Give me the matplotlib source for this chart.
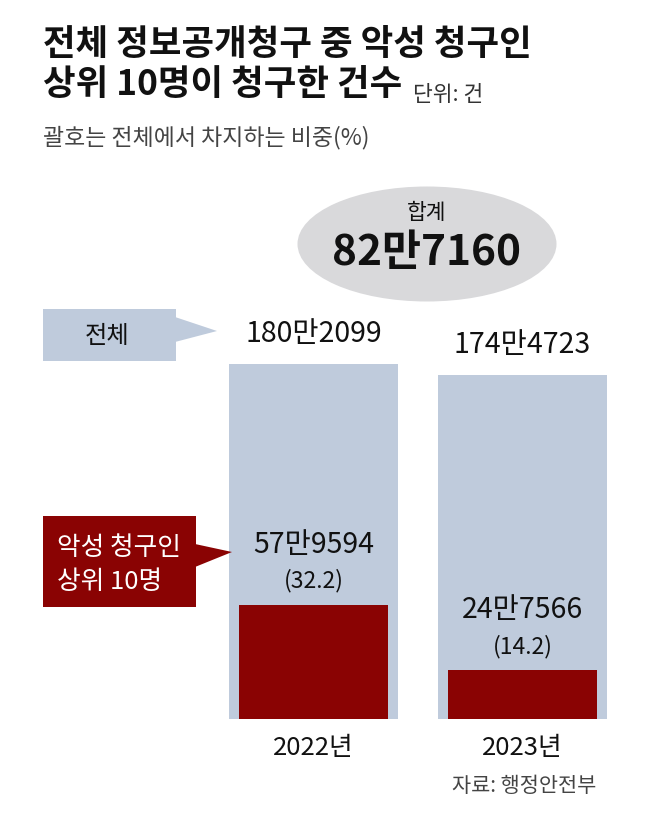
import matplotlib
matplotlib.use("Agg")
import matplotlib.pyplot as plt
from matplotlib.patches import Ellipse, Polygon, Rectangle

plt.rcParams['font.family'] = ['Noto Sans CJK KR', 'DejaVu Sans']

# requests filed, by year
years = ['2022년', '2023년']
total = [1802099, 1744723]
top10 = [579594, 247566]
total_labels = ['180만2099', '174만4723']
top10_labels = ['57만9594', '24만7566']
share_labels = ['(32.2)', '(14.2)']
sum_label = '82만7160'

LIGHT = '#bfcbdc'
DARK_RED = '#8a0303'
INK = '#111111'
W, H = 647, 820

fig = plt.figure(figsize=(W / 100, H / 100), dpi=100)

# bar panel, bottom at 720px from the top
ymax = 2000000
px_per_unit = 355 / total[0]
ax = fig.add_axes([209 / W, 100 / H, 418 / W, ymax * px_per_unit / H])
x = range(len(years))
ax.bar(x, total, width=0.81, color=LIGHT, zorder=1)
ax.bar(x, top10, width=0.713, color=DARK_RED, zorder=2)
ax.set_xlim(-0.5, 1.5)
ax.set_ylim(0, ymax)
ax.axis('off')

for i in x:
    ax.annotate(total_labels[i], (i, total[i]), xytext=(0, 31 * 0.72),
                textcoords='offset points', ha='center', va='center',
                fontsize=20.5, fontweight='medium', color=INK)
    ax.annotate(top10_labels[i], (i, top10[i]), xytext=(0, 61 * 0.72),
                textcoords='offset points', ha='center', va='center',
                fontsize=20.5, fontweight='medium', color=INK)
    ax.annotate(share_labels[i], (i, top10[i]), xytext=(0, 25 * 0.72),
                textcoords='offset points', ha='center', va='center',
                fontsize=16.5, fontweight='medium', color=INK)
    ax.annotate(years[i], (i, 0), xytext=(0, -28 * 0.72),
                textcoords='offset points', ha='center', va='center',
                fontsize=18.5, fontweight='medium', color=INK)

# overlay in pixel coordinates for titles, callouts, total bubble
ov = fig.add_axes([0, 0, 1, 1], zorder=5)
ov.set_xlim(0, W)
ov.set_ylim(H, 0)
ov.axis('off')
ov.patch.set_alpha(0)

ov.text(43, 44, '전체 정보공개청구 중 악성 청구인', fontsize=25.5,
        fontweight='bold', va='center', ha='left', color=INK)
ov.text(43, 85, '상위 10명이 청구한 건수', fontsize=25.5,
        fontweight='bold', va='center', ha='left', color=INK)
ov.text(413, 95, '단위: 건', fontsize=15.5, va='center', ha='left',
        color='#333333')
ov.text(43, 138, '괄호는 전체에서 차지하는 비중(%)', fontsize=16.5,
        va='center', ha='left', color='#444444')

ov.add_patch(Ellipse((427, 245), 259, 115, color='#d9d9db', lw=0))
ov.text(427, 213, '합계', fontsize=15.5, ha='center', va='center',
        color=INK)
ov.text(427, 253, sum_label, fontsize=30.5, fontweight='bold',
        ha='center', va='center', color=INK)

# "전체" callout
ov.add_patch(Rectangle((43, 310), 133, 52, color=LIGHT, lw=0))
ov.add_patch(Polygon([(175, 318), (217, 332), (175, 343)], color=LIGHT,
                     lw=0))
ov.text(107, 336, '전체', fontsize=17.5, ha='center', va='center',
        color=INK)

# top-10 callout
ov.add_patch(Rectangle((43, 517), 153, 91, color=DARK_RED, lw=0))
ov.add_patch(Polygon([(195, 545), (232, 553), (195, 568)], color=DARK_RED,
                     lw=0))
ov.text(57, 548, '악성 청구인', fontsize=18.5, ha='left', va='center',
        color='white')
ov.text(57, 582, '상위 10명', fontsize=18.5, ha='left', va='center',
        color='white')

ov.text(596, 786, '자료: 행정안전부', fontsize=15, ha='right', va='center',
        color='#444444')

fig.savefig('out.png', dpi=100)
